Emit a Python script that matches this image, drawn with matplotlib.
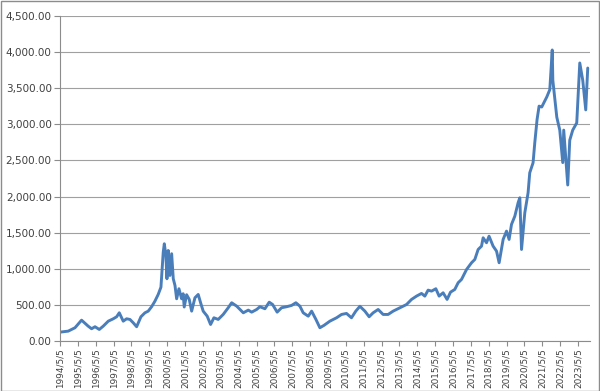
import matplotlib
matplotlib.use("Agg")
import matplotlib.pyplot as plt
from matplotlib.ticker import FuncFormatter, MultipleLocator
from matplotlib.patches import Rectangle
import datetime as dt

dates = [
    "1994-05-05", "1994-10-20", "1995-03-08", "1995-07-20", "1995-12-02",
    "1996-02-10", "1996-04-20", "1996-07-16", "1996-10-05", "1997-01-16",
    "1997-04-28", "1997-07-06", "1997-08-29", "1997-11-18", "1998-01-26",
    "1998-04-04", "1998-06-10", "1998-08-19", "1998-11-15", "1999-02-05",
    "1999-04-13", "1999-06-21", "1999-08-28", "1999-11-03", "1999-12-29",
    "2000-02-14", "2000-03-07", "2000-04-08", "2000-04-30", "2000-05-26",
    "2000-06-30", "2000-08-04", "2000-09-06", "2000-10-11", "2000-11-14",
    "2000-12-31", "2001-02-24", "2001-03-27", "2001-04-18", "2001-06-06",
    "2001-07-30", "2001-09-17", "2001-11-23", "2002-01-29", "2002-03-19",
    "2002-05-11", "2002-08-01", "2002-10-09", "2002-12-16", "2003-03-14",
    "2003-06-24", "2003-10-05", "2003-12-14", "2004-03-26", "2004-08-08",
    "2004-11-18", "2005-01-26", "2005-05-08", "2005-07-14", "2005-10-24",
    "2006-01-20", "2006-03-30", "2006-07-01", "2006-09-30", "2007-01-10",
    "2007-04-22", "2007-07-19", "2007-10-09", "2007-12-16", "2008-03-28",
    "2008-06-05", "2008-09-01", "2008-11-21", "2009-02-11", "2009-06-13",
    "2009-10-28", "2010-02-07", "2010-05-19", "2010-08-29", "2010-11-25",
    "2011-02-17", "2011-05-30", "2011-08-25", "2011-11-15", "2012-02-25",
    "2012-06-06", "2012-09-16", "2012-12-28", "2013-05-15", "2013-09-28",
    "2014-01-08", "2014-04-20", "2014-07-31", "2014-10-07", "2014-12-13",
    "2015-02-21", "2015-05-20", "2015-07-26", "2015-10-16", "2016-01-05",
    "2016-03-15", "2016-06-10", "2016-08-18", "2016-10-26", "2017-02-06",
    "2017-05-19", "2017-07-25", "2017-10-01", "2017-12-09", "2018-01-11",
    "2018-03-21", "2018-05-12", "2018-08-03", "2018-10-12", "2018-12-04",
    "2019-02-24", "2019-05-04", "2019-06-26", "2019-08-14", "2019-10-21",
    "2019-12-27", "2020-01-31", "2020-03-06", "2020-05-12", "2020-07-18",
    "2020-08-21", "2020-10-28", "2020-12-02", "2021-01-18", "2021-02-28",
    "2021-04-23", "2021-08-05", "2021-10-05", "2021-11-24", "2021-12-06",
    "2022-02-25", "2022-04-27", "2022-06-27", "2022-07-17", "2022-10-07",
    "2022-11-17", "2023-01-17", "2023-04-09", "2023-06-10", "2023-08-10",
    "2023-10-10", "2023-11-20",
]

values = [
    122, 136, 183, 288, 205,
    169, 197, 159, 205, 274,
    307, 335, 390, 274, 307,
    298, 252, 197, 335, 390,
    413, 474, 551, 644, 745,
    1230, 1346, 1184, 861, 1253,
    907, 1208, 861, 769, 584,
    723, 584, 654, 470, 640,
    575, 413, 598, 644, 529,
    413, 343, 228, 321, 298,
    367, 460, 529, 482, 390,
    427, 399, 436, 474, 446,
    537, 505, 399, 460, 474,
    492, 529, 482, 390, 343,
    413, 298, 183, 215, 274,
    321, 367, 381, 321, 413,
    480, 413, 335, 390, 436,
    367, 367, 413, 460, 505,
    575, 621, 658, 621, 704,
    690, 723, 621, 667, 575,
    676, 713, 806, 852, 990,
    1083, 1129, 1267, 1313, 1429,
    1360, 1451, 1313, 1244, 1083,
    1406, 1521, 1406, 1614, 1728,
    1914, 1983, 1267, 1775, 2052,
    2329, 2468, 2745, 3068, 3252,
    3240, 3380, 3480, 4030, 3610,
    3100, 2920, 2470, 2920, 2160,
    2780, 2920, 3020, 3850, 3610,
    3200, 3780,
]

tick_years = list(range(1994, 2024))

x = [dt.datetime.strptime(d, "%Y-%m-%d") for d in dates]

fig = plt.figure(figsize=(6.0, 3.91), dpi=100)
ax = fig.add_axes([0.1, 0.128, 0.883, 0.831])

ax.plot(x, values, color="#4a7ebb", linewidth=2.1, solid_joinstyle="round",
        solid_capstyle="round")

ax.set_ylim(0, 4500)
ax.yaxis.set_major_locator(MultipleLocator(500))
ax.yaxis.set_major_formatter(FuncFormatter(lambda v, p: f"{v:,.2f}"))

ticks = [dt.datetime(y, 5, 5) for y in tick_years]
ax.set_xticks(ticks)
ax.set_xticklabels([f"{t.year}/{t.month}/{t.day}" for t in ticks], rotation=90)
ax.set_xlim(dt.datetime(1994, 5, 5), dt.datetime(2024, 1, 1))

grey = "#8c8c8c"
ax.grid(axis="y", color="#a0a0a0", linewidth=0.8)
ax.set_axisbelow(True)
for s in ["top", "right"]:
    ax.spines[s].set_visible(False)
for s in ["left", "bottom"]:
    ax.spines[s].set_color(grey)
    ax.spines[s].set_linewidth(0.8)

ax.tick_params(axis="y", direction="out", length=4, color=grey, labelsize=7.5,
               labelcolor="#404040", pad=2)
ax.tick_params(axis="x", direction="out", length=3.5, color=grey, labelsize=6.4,
               labelcolor="#404040", pad=1.5)

fig.patches.append(Rectangle((0.001, 0.001), 0.997, 0.997, transform=fig.transFigure,
                             fill=False, edgecolor=grey, linewidth=1))

fig.savefig("out.png", dpi=100)
